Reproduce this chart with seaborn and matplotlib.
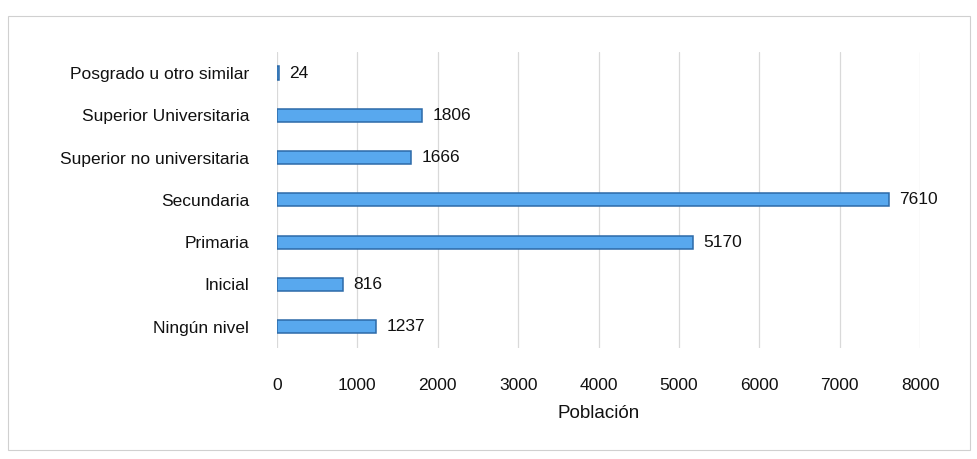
import matplotlib
matplotlib.use('Agg')
import matplotlib.pyplot as plt
import seaborn as sns
import pandas as pd
from matplotlib.patches import Rectangle

niveles = ['Posgrado u otro similar', 'Superior Universitaria', 'Superior no universitaria',
           'Secundaria', 'Primaria', 'Inicial', 'Ningún nivel']
poblacion = [24, 1806, 1666, 7610, 5170, 816, 1237]
ticks_x = [0, 1000, 2000, 3000, 4000, 5000, 6000, 7000, 8000]

df = pd.DataFrame({'Nivel': niveles, 'Poblacion': poblacion})

sns.set_style('white')
plt.rcParams['font.family'] = ['Liberation Sans', 'DejaVu Sans']

fig = plt.figure(figsize=(9.77, 4.59), dpi=100)
ax = fig.add_axes([0.2835, 0.242, 0.6582, 0.645])

sns.barplot(data=df, y='Nivel', x='Poblacion', orient='h', color='#58a8ee', saturation=1,
            edgecolor='#2c6aa8', linewidth=1.1, width=0.31, ax=ax, zorder=3)

for i, v in enumerate(poblacion):
    ax.text(v + 130, i, str(v), va='center', ha='left', fontsize=12.5, color='#111111', zorder=4)

ax.set_xlim(0, 8000)
ax.set_ylim(6.5, -0.5)
ax.set_xticks(ticks_x)
ax.set_xticklabels([str(t) for t in ticks_x], fontsize=12.5, color='#111111')
ax.tick_params(axis='y', labelsize=12.5, labelcolor='#111111', pad=20, length=0)
ax.tick_params(axis='x', pad=22, length=0)
ax.grid(axis='x', color='#d9d9d9', linewidth=0.9, zorder=0)
ax.set_ylabel('')
ax.set_xlabel('Población', fontsize=13.5, color='#111111', labelpad=8)
for s in ax.spines.values():
    s.set_visible(False)

fig.patches.append(Rectangle((0.008, 0.02), 0.985, 0.945, transform=fig.transFigure,
                             fill=False, edgecolor='#d0d0d0', linewidth=0.8))

fig.savefig('out.png', dpi=100)
